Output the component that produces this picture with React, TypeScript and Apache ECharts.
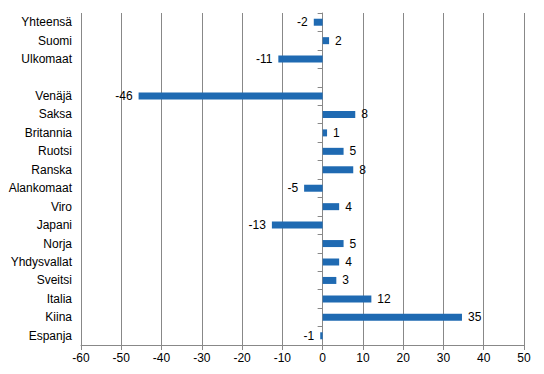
import React, { useEffect, useRef } from "react";
import * as echarts from "echarts";

const categories = [
  "Yhteensä", "Suomi", "Ulkomaat", "", "Venäjä", "Saksa", "Britannia", "Ruotsi", "Ranska",
  "Alankomaat", "Viro", "Japani", "Norja", "Yhdysvallat", "Sveitsi", "Italia", "Kiina", "Espanja",
];
const values: (number | null)[] = [
  -2.2, 1.6, -11.0, null, -45.7, 8.1, 1.1, 5.2, 7.6,
  -4.6, 4.1, -12.6, 5.2, 4.1, 3.4, 12.1, 34.6, -0.6,
];
const xTicks = { min: -60, max: 50, interval: 10 };

export default function App() {
  const ref = useRef<HTMLDivElement>(null);
  useEffect(() => {
    const chart = echarts.init(ref.current!, undefined, { renderer: "svg" });
    const font = "'Liberation Sans', Arial, sans-serif";
    chart.setOption({
      animation: false,
      textStyle: { fontFamily: font },
      grid: { left: 81, right: 20, top: 13, bottom: 29, containLabel: false },
      xAxis: {
        type: "value",
        min: xTicks.min,
        max: xTicks.max,
        interval: xTicks.interval,
        axisLine: { show: true, onZero: false, lineStyle: { color: "#888888", width: 1 } },
        axisTick: { show: true, length: 5, lineStyle: { color: "#888888" } },
        axisLabel: { color: "#000", fontSize: 12, fontFamily: font, margin: 7 },
        splitLine: { show: true, lineStyle: { color: "#888888", width: 1 } },
      },
      yAxis: [
        {
          type: "category",
          data: categories,
          inverse: true,
          axisLine: { show: false, onZero: false },
          axisTick: { show: false },
          axisLabel: { color: "#000", fontSize: 12, fontFamily: font, margin: 9 },
        },
        {
          type: "category",
          data: categories,
          inverse: true,
          position: "left",
          axisLine: { show: true, onZero: true, lineStyle: { color: "#888888" } },
          axisTick: { show: true, length: 5, inside: false, lineStyle: { color: "#888888" } },
          axisLabel: { show: false },
        },
      ],
      series: [
        {
          type: "bar",
          yAxisIndex: 0,
          barWidth: 7,
          itemStyle: { color: "#1f6ab2" },
          data: values.map((v) =>
            v === null
              ? null
              : { value: v, label: { position: v < 0 ? "left" : "right" } }
          ),
          label: {
            show: true,
            distance: 6,
            color: "#000",
            fontSize: 12,
            fontFamily: font,
            formatter: (p: any) => String(Math.round(p.value)),
          },
        },
      ],
    });
    return () => chart.dispose();
  }, []);
  return <div ref={ref} style={{ width: 544, height: 374, position: "absolute", left: 0, top: 0 }} />;
}
